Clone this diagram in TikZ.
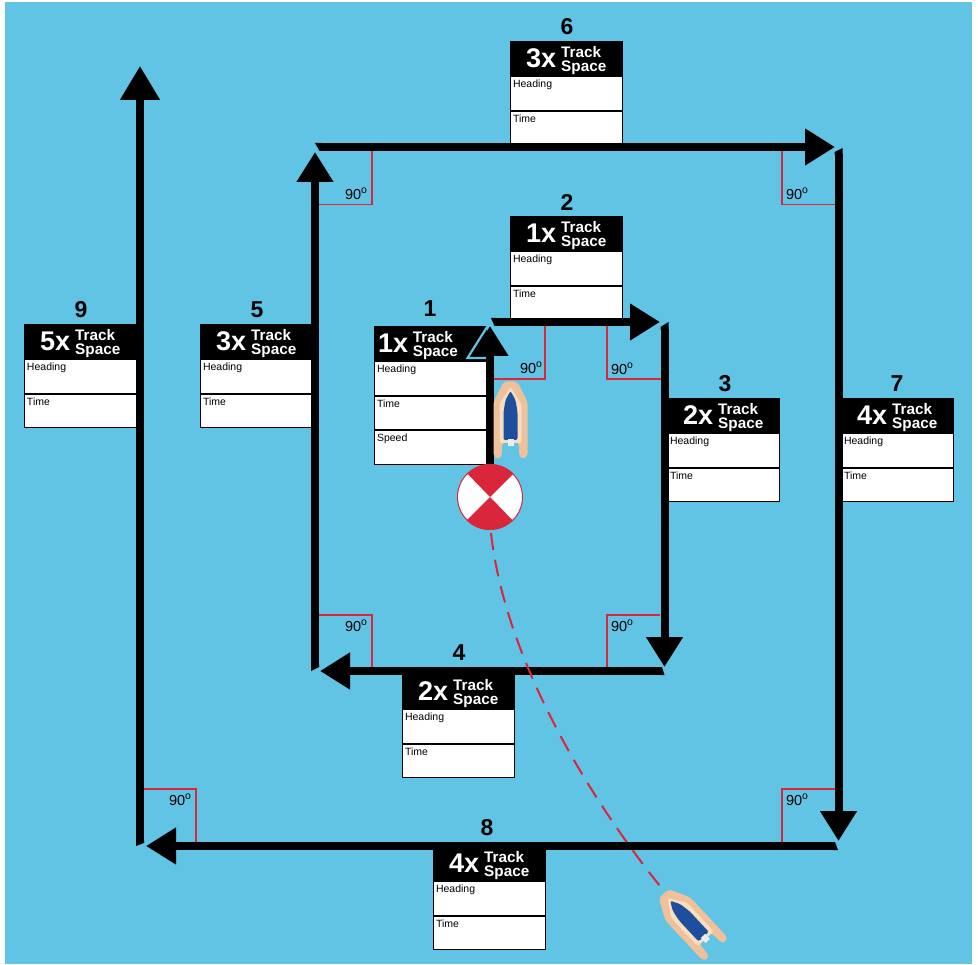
\documentclass[tikz,border=0pt]{standalone}
\usepackage{fontspec}
\setmainfont{Liberation Sans}
\usetikzlibrary{arrows.meta}
\definecolor{seabg}{HTML}{62C4E4}
\definecolor{redmark}{HTML}{D9263A}
\definecolor{tube}{HTML}{EFC19A}
\definecolor{tubelight}{HTML}{F8DDBE}
\definecolor{hull}{HTML}{1E4F9C}
\tikzset{
  x=1pt,y=-1pt,
  leg/.style={line width=8pt,draw=black,-{Triangle[length=30pt,width=35pt]}},
  bigleg/.style={line width=8pt,draw=black,-{Triangle[length=34pt,width=38pt]}},
  headbox/.style={fill=black,minimum width=112.5pt,minimum height=35pt,inner sep=0pt,anchor=north west},
  rowbox/.style={draw=black,line width=1pt,fill=white,anchor=north west,text width=107pt,inner xsep=2.5pt,inner ysep=2pt,
     text height=9pt,text depth=20.5pt,align=left,font=\fontsize{10.5}{12}\selectfont},
  multtxt/.style={text=white,inner sep=0pt,anchor=base west,font=\fontsize{27}{27}\selectfont\bfseries},
  tracktxt/.style={text=white,inner sep=0pt,anchor=west,align=left,font=\fontsize{15.3}{14}\selectfont\bfseries},
  numtxt/.style={inner sep=0pt,anchor=center,font=\fontsize{23}{23}\selectfont\bfseries},
  degtxt/.style={inner sep=0pt,anchor=center,font=\fontsize{14.5}{15}\selectfont},
  anglemark/.style={draw=redmark,line width=1.2pt},
}
% name, x, y, multiplier, x offset of multiplier, x offset of words
\newcommand{\headcard}[6]{%
  \node[headbox] (#1h) at (#2,#3) {};
  \node[multtxt] (#1m) at ([xshift=#5pt,yshift=-26.5pt]#1h.north west) {#4};
  \node[tracktxt] (#1t) at ([xshift=#6pt,yshift=-19.1pt]#1h.north west) {Track\\Space};
}
\newcommand{\twocard}[4]{%
  \headcard{#1}{#2}{#3}{#4}{16}{51}
  \node[rowbox] (#1a) at (#1h.south west) {Heading};
  \node[rowbox] (#1b) at (#1a.south west) {Time};
}
\newcommand{\boat}[3]{%
  \begin{scope}[shift={(#1,#2)},rotate=#3]
    \fill[tube,rounded corners=3pt] (0,-39) -- (7,-38) -- (17,-18) -- (17,36) -- (13,39) -- (9,37) -- (8,22) -- (-8,22) -- (-9,37) -- (-13,39) -- (-17,36) -- (-17,-18) -- (-7,-38) -- cycle;
    \fill[tubelight,rounded corners=2pt] (0,-33) -- (11,-16) -- (11,23) -- (-11,23) -- (-11,-16) -- cycle;
    \fill[hull,rounded corners=2pt] (0,-29) -- (5,-20) -- (7,-8) -- (7,20) -- (-7,20) -- (-7,-8) -- (-5,-20) -- cycle;
    \fill[white!85!gray] (-3,19) rectangle (3,26);
  \end{scope}%
}
\newcommand{\deglabel}[3]{\node[degtxt] (#1) at (#2,#3) {90\raisebox{.42em}{\fontsize{10.5}{10.5}\selectfont o}};}
\begin{document}
\begin{tikzpicture}
\useasboundingbox (0,0) rectangle (978,965);
\fill[white] (0,0) rectangle (978,965);
\fill[seabg] (5,2) rectangle (972,964);

% waypoints
\coordinate (p0) at (490,470);
\coordinate (p1) at (490,326);
\coordinate (p2s) at (495,322);
\coordinate (p2) at (660,322);
\coordinate (p3s) at (664.5,329);
\coordinate (p3) at (664.5,667);
\coordinate (p4s) at (661,671);
\coordinate (p4) at (320,671);
\coordinate (p5s) at (315,665);
\coordinate (p5) at (315,152);
\coordinate (p6s) at (321,147);
\coordinate (p6) at (835,147);
\coordinate (p7s) at (838.5,154);
\coordinate (p7) at (838.5,841);
\coordinate (p8s) at (834,846);
\coordinate (p8) at (146,846);
\coordinate (p9s) at (140,841);
\coordinate (p9) at (140,66);

% right-angle marks
\coordinate (a1a) at (493,379); \coordinate (a1b) at (545,379); \coordinate (a1c) at (545,326);
\coordinate (a2a) at (607,326); \coordinate (a2b) at (607,379); \coordinate (a2c) at (661,379);
\coordinate (a3a) at (372,151); \coordinate (a3b) at (372,204.5); \coordinate (a3c) at (319,204.5);
\coordinate (a4a) at (782,151); \coordinate (a4b) at (782,204.5); \coordinate (a4c) at (835,204.5);
\coordinate (a5a) at (319,615); \coordinate (a5b) at (372,615); \coordinate (a5c) at (372,667);
\coordinate (a6a) at (607,667); \coordinate (a6b) at (607,615); \coordinate (a6c) at (660,615);
\coordinate (a7a) at (782,842); \coordinate (a7b) at (782,789); \coordinate (a7c) at (835,789);
\coordinate (a8a) at (143,789); \coordinate (a8b) at (196,789); \coordinate (a8c) at (196,842);
\foreach \k in {1,...,8} \draw[anglemark] (a\k a) -- (a\k b) -- (a\k c);
\deglabel{d1}{531}{368}
\deglabel{d2}{622}{369}
\deglabel{d3}{356}{194}
\deglabel{d4}{797}{194}
\deglabel{d5}{356}{626}
\deglabel{d6}{622}{626}
\deglabel{d7}{797}{800}
\deglabel{d8}{180}{800}

% cards
\headcard{c1}{374}{326}{1x}{4}{38.7}
\node[rowbox] (c1a) at (c1h.south west) {Heading};
\node[rowbox] (c1b) at (c1a.south west) {Time};
\node[rowbox] (c1c) at (c1b.south west) {Speed};
\twocard{c2}{510}{216}{1x}
\twocard{c3}{667}{398}{2x}
\twocard{c4}{402}{674}{2x}
\twocard{c5}{200}{324}{3x}
\twocard{c6}{510}{41}{3x}
\twocard{c7}{841}{398}{4x}
\twocard{c8}{433}{846}{4x}
\twocard{c9}{24}{324}{5x}

% step numbers
\node[numtxt] (n1) at (430,309) {1};
\node[numtxt] (n2) at (567,202) {2};
\node[numtxt] (n3) at (725,384) {3};
\node[numtxt] (n4) at (459,653) {4};
\node[numtxt] (n5) at (257,310) {5};
\node[numtxt] (n6) at (567,27) {6};
\node[numtxt] (n7) at (897,384) {7};
\node[numtxt] (n8) at (487,828) {8};
\node[numtxt] (n9) at (81,310) {9};

% legs, each with its slanted starting end
\draw[leg] (p0) -- (p1);
\fill[black] (491,318) -- (496,318) -- (496,326) -- (494.5,326) -- cycle;
\draw[leg] (p2s) -- (p2);
\fill[black] (660.5,327) -- (668.5,322) -- (668.5,330) -- (660.5,330) -- cycle;
\draw[leg] (p3s) -- (p3);
\fill[black] (662,667) -- (664.5,675) -- (660,675) -- (660,667) -- cycle;
\draw[leg] (p4s) -- (p4);
\fill[black] (311,671) -- (319,667) -- (319,664) -- (311,664) -- cycle;
\draw[leg] (p5s) -- (p5);
\fill[black] (315,143) -- (319.5,151) -- (322,151) -- (322,143) -- cycle;
\draw[leg] (p6s) -- (p6);
\fill[black] (834.5,152) -- (842.5,148) -- (842.5,155) -- (834.5,155) -- cycle;
\draw[leg] (p7s) -- (p7);
\fill[black] (835,842) -- (838,850) -- (833,850) -- (833,842) -- cycle;
\draw[leg] (p8s) -- (p8);
\fill[black] (136,846) -- (144,843) -- (144,840) -- (136,840) -- cycle;
\draw[bigleg] (p9s) -- (p9);
\draw[seabg,line width=2.2pt] (486,358) -- (467.5,358) -- (488,325.5);

% drift track
\coordinate (t0) at (491,533);
\coordinate (t1) at (664,891);
\draw[redmark,line width=2pt,dash pattern=on 17pt off 10pt] (t0) .. controls (505,660) and (590,800) .. (t1);

% boats
\boat{510.5}{420}{0}
\boat{690}{922}{43}

% buoy
\node[circle,draw=redmark,line width=1pt,fill=white,minimum size=65pt,inner sep=0pt] (buoy) at (490,497) {};
\fill[redmark] (buoy.center) -- (buoy.north east) arc[start angle=45,end angle=135,radius=32.5pt] -- cycle;
\fill[redmark] (buoy.center) -- (buoy.south west) arc[start angle=225,end angle=315,radius=32.5pt] -- cycle;
\end{tikzpicture}
\end{document}
